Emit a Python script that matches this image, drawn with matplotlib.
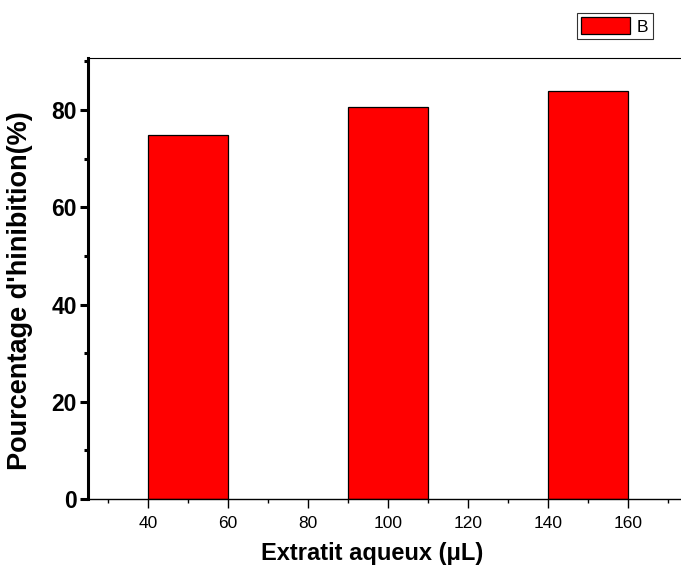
import matplotlib
matplotlib.use("Agg")
import matplotlib.pyplot as plt
from matplotlib.ticker import MultipleLocator

# Data
volumes = [50, 100, 150]          # Extratit aqueux (µL)
inhibition = [74.8, 80.6, 84.0]   # Pourcentage d'inhibition (%)
series_name = "B"
x_ticks = [40, 60, 80, 100, 120, 140, 160]
y_ticks = [0, 20, 40, 60, 80]

plt.rcParams['font.family'] = ['Liberation Sans', 'DejaVu Sans']

fig = plt.figure(figsize=(6.81, 5.75), dpi=100)
# the axes run slightly past the right edge of the canvas
ax = fig.add_axes([88 / 681, 1 - 499 / 575, 600 / 681, (499 - 58) / 575])

bars = ax.bar(volumes, inhibition, width=20, color='#ff0000',
              edgecolor='black', linewidth=0.9, label=series_name, zorder=2)

ax.set_xlim(25, 175)
ax.set_ylim(0, 90.7)

ax.set_xticks(x_ticks)
ax.xaxis.set_minor_locator(MultipleLocator(10))
ax.set_yticks(y_ticks)
ax.yaxis.set_minor_locator(MultipleLocator(10))

ax.spines['left'].set_linewidth(2.2)
ax.spines['bottom'].set_linewidth(1.0)
ax.spines['top'].set_linewidth(0.8)
ax.spines['right'].set_visible(False)

ax.tick_params(axis='y', which='major', direction='out', length=6, width=2.2,
               labelsize=16.5, pad=2)
ax.tick_params(axis='y', which='minor', direction='out', length=3, width=2.2)
ax.tick_params(axis='x', which='major', direction='out', length=6.5, width=1.0,
               labelsize=12.5, pad=5.5)
ax.tick_params(axis='x', which='minor', direction='out', length=3, width=1.0)
for lbl in ax.get_yticklabels():
    lbl.set_fontweight('bold')

ax.set_ylabel("Pourcentage d'hinibition(%)", fontsize=19.5, fontweight='bold')
ax.yaxis.set_label_coords(-0.092, 0.472)
ax.set_xlabel("Extratit aqueux (\u03bcL)", fontsize=17, fontweight='bold')
ax.xaxis.set_label_coords(0.473, -0.098)

leg = fig.legend(handles=[bars], labels=[series_name], loc='upper left',
                 bbox_to_anchor=(577 / 681, 1 - 13 / 575), fontsize=12.5,
                 frameon=True, fancybox=False, edgecolor='black',
                 handlelength=2.8, handleheight=1.1, handletextpad=0.4,
                 borderpad=0.25, borderaxespad=0.0)
leg.get_frame().set_linewidth(0.8)

fig.savefig("out.png", dpi=100)
